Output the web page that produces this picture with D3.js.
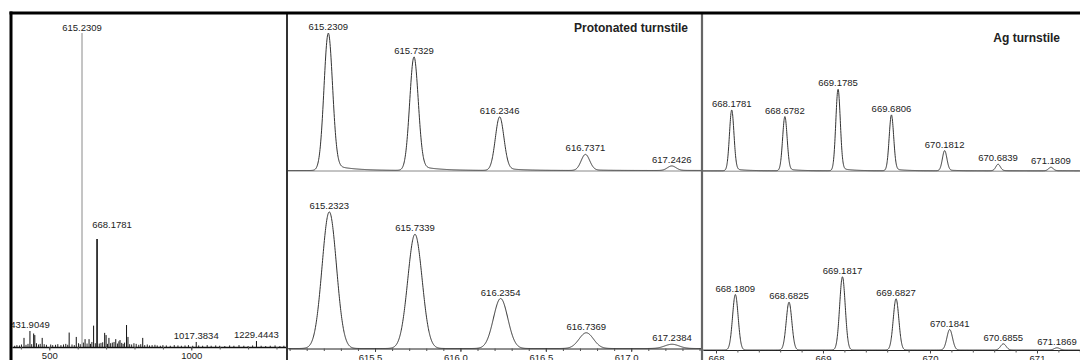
<!DOCTYPE html>
<html>
<head>
<meta charset="utf-8">
<script src="https://cdn.jsdelivr.net/npm/d3@7"></script>
<style>
  html, body { margin: 0; padding: 0; background: #fff; }
  svg { display: block; }
  text { font-family: "Liberation Sans", Arial, sans-serif; fill: #222; }
</style>
</head>
<body>
<svg id="chart" width="1080" height="360"></svg>
<script>
// ---------------- DATA ----------------
// Full spectrum (left panel): sticks
const fullMz  = [411, 431.9049, 445, 449, 475, 570, 595, 615.2309, 626, 640, 656, 668.1781, 695, 700, 710, 734, 749, 772, 777, 829, 1017.3834, 1229.4443];
const fullInt = [0.029, 0.051, 0.043, 0.038, 0.029, 0.046, 0.032, 1.0, 0.025, 0.025, 0.068, 0.344, 0.045, 0.038, 0.029, 0.025, 0.022, 0.070, 0.032, 0.029, 0.016, 0.019];
const fullLabels = ["431.9049", "615.2309", "668.1781", "1017.3834", "1229.4443"];
const noiseMz  = [378, 386, 395, 402, 418, 425, 438, 455, 462, 468, 482, 490, 505, 512, 522, 530, 541, 550, 558, 565, 580, 588, 603, 609, 620, 633, 645, 650, 662, 676, 682, 688, 705, 716, 722, 728, 740, 745, 755, 760, 765, 783, 790, 798, 806, 815, 822, 836, 845, 853, 862, 872, 880, 891, 900, 912, 926, 940, 953, 965, 978, 990, 1005, 1026, 1040, 1056, 1070, 1086, 1100, 1118, 1135, 1150, 1168, 1185, 1200, 1216, 1246, 1262, 1278, 1295, 1312, 1326];
const noiseInt = [0.004, 0.006, 0.005, 0.008, 0.007, 0.010, 0.009, 0.012, 0.008, 0.010, 0.009, 0.007, 0.008, 0.006, 0.007, 0.009, 0.006, 0.008, 0.010, 0.007, 0.008, 0.006, 0.012, 0.009, 0.014, 0.011, 0.010, 0.016, 0.012, 0.011, 0.013, 0.015, 0.010, 0.012, 0.014, 0.016, 0.011, 0.018, 0.013, 0.010, 0.014, 0.009, 0.008, 0.012, 0.010, 0.007, 0.009, 0.006, 0.008, 0.005, 0.006, 0.007, 0.005, 0.004, 0.006, 0.005, 0.004, 0.006, 0.005, 0.004, 0.005, 0.006, 0.004, 0.005, 0.004, 0.006, 0.004, 0.005, 0.004, 0.003, 0.005, 0.004, 0.006, 0.004, 0.003, 0.005, 0.004, 0.003, 0.004, 0.005, 0.003, 0.004];
const fullTicks = [400, 500, 600, 700, 800, 900, 1000, 1100, 1200, 1300];
const fullTickLabels = ["500", "1000"];

// Protonated turnstile: experimental (top) and simulated (bottom)
const protExpLabels = ["615.2309", "615.7329", "616.2346", "616.7371", "617.2426"];
const protExpInt    = [1.0, 0.826, 0.390, 0.117, 0.033];
const protSimLabels = ["615.2323", "615.7339", "616.2354", "616.7369", "617.2384"];
const protSimInt    = [1.0, 0.836, 0.366, 0.115, 0.031];
const protTickLabels = ["615.5", "616.0", "616.5", "617.0"];

// Ag turnstile: experimental (top) and simulated (bottom)
const agExpLabels = ["668.1781", "668.6782", "669.1785", "669.6806", "670.1812", "670.6839", "671.1809"];
const agExpInt    = [0.442, 0.394, 0.593, 0.406, 0.146, 0.047, 0.025];
const agSimLabels = ["668.1809", "668.6825", "669.1817", "669.6827", "670.1841", "670.6855", "671.1869"];
const agSimInt    = [0.406, 0.350, 0.536, 0.375, 0.150, 0.045, 0.016];
const agTickLabels = ["668", "669", "670", "671"];

const titles = ["Protonated turnstile", "Ag turnstile"];

// ---------------- DRAW ----------------
const svg = d3.select("#chart");
const ink = "#222";
const font = 9.5;

// peak profile model: gaussian (+ optional tailing for experimental data)
function profile(mzs, ints, sigma, tailFrac, tau, domain, step) {
  const pts = [];
  for (let m = domain[0]; m <= domain[1] + 1e-9; m += step) {
    let v = 0;
    for (let i = 0; i < mzs.length; i++) {
      const d = m - mzs[i];
      let g = Math.exp(-0.5 * (d / sigma) ** 2);
      if (tailFrac > 0 && d > 0) {
        const s = 1 / (1 + Math.exp(-(d - 1.2 * sigma) / (0.4 * sigma)));
        g += tailFrac * s * Math.exp(-d / tau);
      }
      v += ints[i] * g;
    }
    pts.push([m, v]);
  }
  return pts;
}

function drawProfilePanel(cfg) {
  const x = d3.scaleLinear().domain(cfg.domain).range([cfg.x0, cfg.x1]);
  const y = d3.scaleLinear().domain([0, 1]).range([cfg.base, cfg.base - cfg.unit]);
  const g = svg.append("g");
  const mzs = cfg.labels.map(Number);
  const pts = profile(mzs, cfg.ints, cfg.sigma, cfg.tail, cfg.tau, cfg.domain, 0.0015);
  // baseline / axis
  if (cfg.axis) {
    const minor = d3.range(Math.ceil(cfg.domain[0] / cfg.minorStep), Math.floor(cfg.domain[1] / cfg.minorStep) + 1).map(k => +(k * cfg.minorStep).toFixed(3));
    g.append("g").attr("transform", `translate(0,${cfg.base})`)
      .call(d3.axisBottom(x).tickValues(minor).tickSize(2.5).tickSizeOuter(0).tickFormat(""))
      .call(a => a.select(".domain").attr("stroke", ink).attr("stroke-width", 1.2))
      .call(a => a.selectAll(".tick line").attr("stroke", "#555"));
    g.append("g").attr("transform", `translate(0,${cfg.base})`)
      .call(d3.axisBottom(x).tickValues(cfg.ticks.map(Number)).tickSize(3.5).tickSizeOuter(0).tickFormat((d, i) => cfg.ticks[i]))
      .call(a => a.select(".domain").remove())
      .call(a => a.selectAll(".tick line").attr("stroke", "#444"))
      .call(a => a.selectAll(".tick text").attr("font-size", font).attr("fill", ink)
        .attr("font-family", '"Liberation Sans", Arial, sans-serif').attr("y", 5.5).attr("dx", cfg.tickDx || 0));
  } else {
    g.append("line").attr("x1", cfg.x0).attr("x2", cfg.x1).attr("y1", cfg.base + 0.5).attr("y2", cfg.base + 0.5)
      .attr("stroke", "#888").attr("stroke-width", 1);
  }
  g.append("path").datum(pts)
    .attr("fill", "none").attr("stroke", "#333").attr("stroke-width", 1)
    .attr("d", d3.line().x(d => x(d[0])).y(d => y(d[1])));
  // labels
  g.selectAll("text.pk").data(cfg.labels).join("text").attr("class", "pk")
    .attr("x", d => x(+d))
    .attr("y", (d, i) => {
      const top = d3.max(pts.filter(p => Math.abs(p[0] - (+d)) < 0.01), p => p[1]);
      return y(top) - 3;
    })
    .attr("text-anchor", "middle").attr("font-size", font).text(d => d);
  return { x, y };
}

// Middle panels
drawProfilePanel({ labels: protExpLabels, ints: protExpInt, domain: [614.995, 617.420], x0: 288, x1: 702,
  base: 170.5, unit: 137.2, sigma: 0.025, tail: 0.05, tau: 0.11, axis: false });
drawProfilePanel({ labels: protSimLabels, ints: protSimInt, domain: [614.9905, 617.4144], x0: 288, x1: 702,
  base: 348.5, unit: 136.6, sigma: 0.042, tail: 0, tau: 1, axis: true, ticks: protTickLabels, minorStep: 0.1, tickDx: -5 });
// Right panels
drawProfilePanel({ labels: agExpLabels, ints: agExpInt, domain: [667.908, 671.4546], x0: 703, x1: 1080,
  base: 170.7, unit: 137.2, sigma: 0.021, tail: 0.04, tau: 0.09, axis: false });
drawProfilePanel({ labels: agSimLabels, ints: agSimInt, domain: [667.8785, 671.4019], x0: 703, x1: 1080,
  base: 350, unit: 136.6, sigma: 0.026, tail: 0, tau: 1, axis: true, ticks: agTickLabels, minorStep: 0.2 });

// Left panel (full spectrum)
svg.append("defs").append("clipPath").attr("id", "leftclip")
  .append("rect").attr("x", 12).attr("y", 14).attr("width", 275).attr("height", 346);
const xl = d3.scaleLinear().domain([368.7, 1337]).range([12, 287]);
const yl = d3.scaleLinear().domain([0, 1]).range([347, 33]);
const gl = svg.append("g").attr("clip-path", "url(#leftclip)");
gl.append("g").attr("transform", "translate(0,347)")
  .call(d3.axisBottom(xl).tickValues(fullTicks).tickSize(2.5).tickSizeOuter(0).tickFormat(""))
  .call(a => a.select(".domain").attr("stroke", "#111").attr("stroke-width", 1.5))
  .call(a => a.selectAll(".tick line").attr("stroke", "#555"));
gl.append("g").attr("transform", "translate(0,347)")
  .call(d3.axisBottom(xl).tickValues(fullTickLabels.map(Number)).tickSize(3.5).tickSizeOuter(0).tickFormat((d, i) => fullTickLabels[i]))
  .call(a => a.select(".domain").remove())
  .call(a => a.selectAll(".tick line").attr("stroke", "#444"))
  .call(a => a.selectAll(".tick text").attr("font-size", font).attr("fill", ink)
    .attr("font-family", '"Liberation Sans", Arial, sans-serif').attr("y", 5.5));
gl.selectAll("line.noise").data(noiseMz).join("line").attr("class", "noise")
  .attr("x1", d => xl(d)).attr("x2", d => xl(d))
  .attr("y1", yl(0)).attr("y2", (d, i) => yl(noiseInt[i]))
  .attr("stroke", "#222").attr("stroke-width", 1);
gl.selectAll("line.stick").data(fullMz).join("line").attr("class", "stick")
  .attr("x1", d => xl(d)).attr("x2", d => xl(d))
  .attr("y1", yl(0)).attr("y2", (d, i) => yl(fullInt[i]))
  .attr("stroke", (d, i) => fullInt[i] > 0.9 ? "#8a8a8a" : "#111").attr("stroke-width", (d, i) => fullInt[i] > 0.3 && fullInt[i] < 0.9 ? 1.6 : 1);
const nudge = { "668.1781": [15, -8] , "615.2309": [0, 1]};
gl.selectAll("text.pk").data(fullLabels).join("text").attr("class", "pk")
  .attr("x", d => xl(+d) + (nudge[d] ? nudge[d][0] : 0))
  .attr("y", d => yl(fullInt[fullMz.indexOf(+d)]) - 3 + (nudge[d] ? nudge[d][1] : 0))
  .attr("text-anchor", "middle").attr("font-size", font).text(d => d);

// Titles
svg.append("text").attr("x", 688).attr("y", 31.5).attr("text-anchor", "end")
  .attr("font-size", 12).attr("font-weight", "bold").text(titles[0]);
svg.append("text").attr("x", 1060).attr("y", 41.5).attr("text-anchor", "end")
  .attr("font-size", 12).attr("font-weight", "bold").text(titles[1]);

// Frame and separators
svg.append("line").attr("x1", 287).attr("x2", 287).attr("y1", 13).attr("y2", 360).attr("stroke", "#333").attr("stroke-width", 2);
svg.append("line").attr("x1", 702).attr("x2", 702).attr("y1", 13).attr("y2", 360).attr("stroke", "#666").attr("stroke-width", 2.2);
svg.append("line").attr("x1", 9.5).attr("x2", 1080).attr("y1", 13).attr("y2", 13).attr("stroke", "#000").attr("stroke-width", 3);
svg.append("line").attr("x1", 11).attr("x2", 11).attr("y1", 11.5).attr("y2", 360).attr("stroke", "#000").attr("stroke-width", 3);
</script>
</body>
</html>
